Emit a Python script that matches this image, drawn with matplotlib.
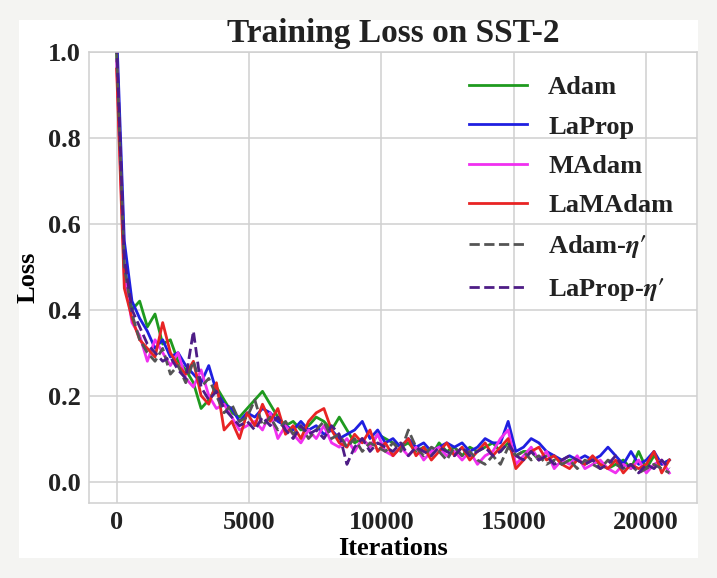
import numpy as np
import matplotlib
matplotlib.use("Agg")
import matplotlib.pyplot as plt
from matplotlib.patches import Rectangle

# iteration axis (one logged point every 290 steps)
iters = np.arange(0, 20881, 290)

adam = [1.00, 0.50, 0.40, 0.42, 0.36, 0.39, 0.32, 0.33, 0.28, 0.26,
        0.23, 0.17, 0.19, 0.22, 0.19, 0.16, 0.15, 0.17, 0.19, 0.21,
        0.18, 0.15, 0.13, 0.14, 0.12, 0.13, 0.15, 0.14, 0.12, 0.15,
        0.12, 0.09, 0.10, 0.08, 0.11, 0.10, 0.09, 0.08, 0.09, 0.07,
        0.08, 0.06, 0.09, 0.07, 0.08, 0.06, 0.08, 0.07, 0.08, 0.09,
        0.07, 0.09, 0.06, 0.07, 0.07, 0.05, 0.06, 0.06, 0.04, 0.05,
        0.05, 0.04, 0.05, 0.04, 0.03, 0.04, 0.05, 0.03, 0.07, 0.03,
        0.06, 0.04, 0.05]
laprop = [1.05, 0.56, 0.42, 0.38, 0.35, 0.31, 0.33, 0.29, 0.30, 0.27,
          0.25, 0.23, 0.27, 0.21, 0.18, 0.17, 0.14, 0.16, 0.15, 0.17,
          0.16, 0.14, 0.13, 0.12, 0.14, 0.12, 0.13, 0.11, 0.12, 0.10,
          0.11, 0.12, 0.14, 0.10, 0.12, 0.09, 0.10, 0.08, 0.10, 0.08,
          0.09, 0.07, 0.08, 0.09, 0.08, 0.09, 0.07, 0.08, 0.10, 0.09,
          0.09, 0.14, 0.07, 0.08, 0.10, 0.09, 0.07, 0.06, 0.05, 0.06,
          0.05, 0.06, 0.05, 0.06, 0.08, 0.06, 0.04, 0.07, 0.04, 0.05,
          0.07, 0.04, 0.05]
madam = [0.98, 0.48, 0.37, 0.34, 0.28, 0.33, 0.30, 0.27, 0.30, 0.24,
         0.22, 0.26, 0.20, 0.17, 0.18, 0.15, 0.12, 0.13, 0.14, 0.12,
         0.16, 0.10, 0.13, 0.11, 0.09, 0.12, 0.10, 0.13, 0.09, 0.08,
         0.10, 0.07, 0.10, 0.08, 0.11, 0.07, 0.06, 0.08, 0.06, 0.08,
         0.05, 0.07, 0.08, 0.06, 0.07, 0.05, 0.07, 0.04, 0.06, 0.07,
         0.10, 0.12, 0.04, 0.06, 0.08, 0.05, 0.07, 0.03, 0.05, 0.04,
         0.06, 0.03, 0.04, 0.05, 0.03, 0.02, 0.04, 0.03, 0.05, 0.02,
         0.04, 0.05, 0.02]
lamadam = [0.96, 0.45, 0.38, 0.33, 0.31, 0.29, 0.37, 0.30, 0.27, 0.25,
           0.28, 0.20, 0.18, 0.23, 0.12, 0.14, 0.10, 0.16, 0.13, 0.18,
           0.14, 0.17, 0.11, 0.13, 0.10, 0.14, 0.16, 0.17, 0.12, 0.09,
           0.08, 0.11, 0.09, 0.12, 0.07, 0.09, 0.06, 0.08, 0.10, 0.06,
           0.08, 0.05, 0.07, 0.09, 0.06, 0.08, 0.05, 0.07, 0.09, 0.06,
           0.08, 0.10, 0.03, 0.05, 0.07, 0.08, 0.05, 0.06, 0.04, 0.03,
           0.05, 0.04, 0.06, 0.04, 0.03, 0.05, 0.02, 0.04, 0.03, 0.04,
           0.07, 0.02, 0.05]
adam_eta = [1.00, 0.50, 0.39, 0.33, 0.30, 0.28, 0.31, 0.25, 0.27, 0.23,
            0.28, 0.22, 0.24, 0.20, 0.16, 0.18, 0.14, 0.15, 0.19, 0.13,
            0.15, 0.12, 0.14, 0.11, 0.13, 0.10, 0.12, 0.14, 0.10, 0.11,
            0.08, 0.10, 0.07, 0.09, 0.08, 0.07, 0.09, 0.07, 0.12, 0.08,
            0.06, 0.08, 0.07, 0.05, 0.08, 0.06, 0.07, 0.05, 0.04, 0.06,
            0.04, 0.08, 0.06, 0.07, 0.05, 0.06, 0.04, 0.05, 0.04, 0.05,
            0.03, 0.05, 0.04, 0.03, 0.05, 0.04, 0.03, 0.04, 0.02, 0.03,
            0.04, 0.03, 0.02]
laprop_eta = [1.02, 0.52, 0.40, 0.36, 0.32, 0.30, 0.28, 0.29, 0.26, 0.24,
              0.35, 0.22, 0.19, 0.21, 0.17, 0.15, 0.13, 0.14, 0.12, 0.15,
              0.13, 0.15, 0.12, 0.10, 0.13, 0.11, 0.12, 0.10, 0.13, 0.11,
              0.04, 0.08, 0.10, 0.07, 0.09, 0.08, 0.07, 0.09, 0.06, 0.08,
              0.07, 0.06, 0.08, 0.07, 0.06, 0.08, 0.06, 0.07, 0.08, 0.06,
              0.07, 0.09, 0.06, 0.05, 0.07, 0.05, 0.06, 0.04, 0.05, 0.06,
              0.05, 0.04, 0.05, 0.03, 0.04, 0.06, 0.03, 0.04, 0.02, 0.04,
              0.03, 0.05, 0.03]

labels = ['Adam', 'LaProp', 'MAdam', 'LaMAdam', r"Adam-$\eta\prime$", r"LaProp-$\eta\prime$"]
series = [adam, laprop, madam, lamadam, adam_eta, laprop_eta]
colors = ['#1f9a1f', '#1f1fe0', '#f030f0', '#e82424', '#555555', '#4e1d86']
styles = ['-', '-', '-', '-', '--', '--']

plt.rcParams['font.family'] = ['Liberation Serif', 'DejaVu Serif']
plt.rcParams['font.weight'] = 'bold'
plt.rcParams['mathtext.fontset'] = 'stix'
plt.rcParams['text.color'] = '#222222'
plt.rcParams['xtick.color'] = '#222222'
plt.rcParams['ytick.color'] = '#222222'

fig = plt.figure(figsize=(7.17, 5.78), dpi=100, facecolor='#f4f4f2')
# white card behind the plot
card = Rectangle((19 / 717, 20 / 578), 679 / 717, 538 / 578,
                 transform=fig.transFigure, facecolor='white',
                 edgecolor='none', zorder=-10)
fig.add_artist(card)
ax = fig.add_axes([89 / 717, 75 / 578, 608 / 717, 451 / 578])
ax.set_zorder(1)
ax.set_facecolor('white')

for y, lab, c, ls in zip(series, labels, colors, styles):
    ax.plot(iters, y, color=c, linestyle=ls, linewidth=2.0, label=lab)

ax.set_ylim(-0.05, 1.0)
ax.set_xlim(-1044, 21924)
ax.set_xticks([0, 5000, 10000, 15000, 20000])
ax.set_yticks([0.0, 0.2, 0.4, 0.6, 0.8, 1.0])
ax.grid(True, color='#d0d0d0', linewidth=1.1)
ax.set_axisbelow(True)
for s in ax.spines.values():
    s.set_color('#d0d0d0')
    s.set_linewidth(1.1)
ax.tick_params(length=0, labelsize=19, pad=6)
for t in ax.get_xticklabels() + ax.get_yticklabels():
    t.set_fontweight('bold')

ax.set_title('Training Loss on SST-2', fontsize=24, fontweight='bold', pad=7)
ax.set_xlabel('Iterations', fontsize=19, fontweight='bold', labelpad=2)
ax.set_ylabel('Loss', fontsize=19, fontweight='bold', labelpad=6)

leg = ax.legend(loc='upper right', frameon=False, prop={'size': 19, 'weight': 'bold'},
                handlelength=2.2, handletextpad=0.8, labelspacing=0.6,
                borderaxespad=0.5)

fig.savefig('out.png', dpi=100, facecolor=fig.get_facecolor())
